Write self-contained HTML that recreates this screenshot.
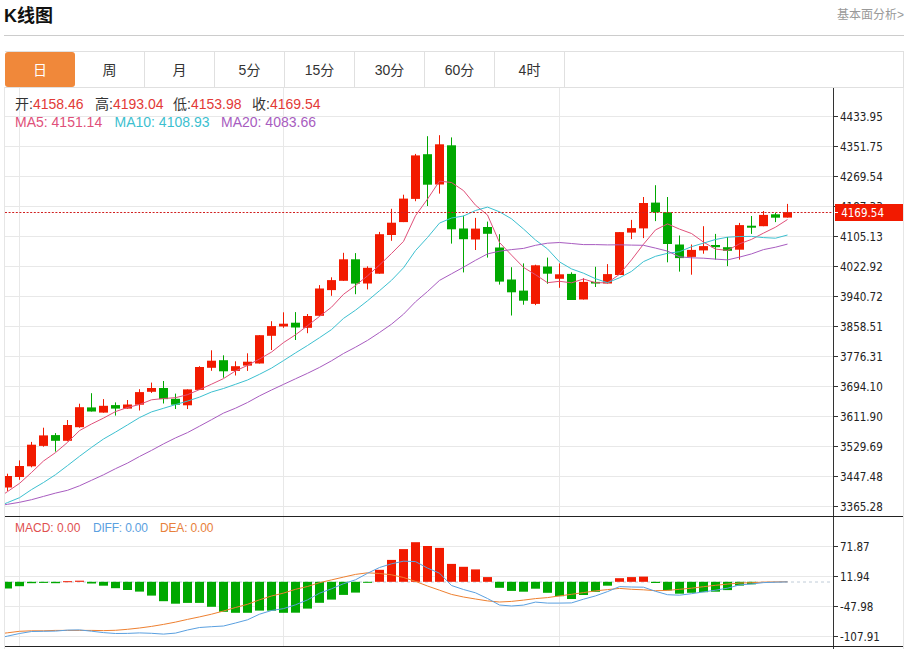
<!DOCTYPE html>
<html><head><meta charset="utf-8"><style>
*{margin:0;padding:0;box-sizing:border-box}
html,body{width:905px;height:649px;background:#fff;overflow:hidden}
body{position:relative;font-family:"Liberation Sans","Noto Sans CJK SC",sans-serif;color:#333}
.title{position:absolute;left:4px;top:4px;font-size:18px;font-weight:bold;color:#111;line-height:24px;font-family:"Liberation Sans","Noto Sans CJK SC",sans-serif}
.more{position:absolute;right:1px;top:7px;font-size:12px;color:#999;line-height:16px}
.hr{position:absolute;left:4px;top:35px;width:900px;height:1px;background:#ccc}
.tabs{position:absolute;left:5px;top:51px;width:899px;height:37px;border:1px solid #e0e0e0;border-left:none}
.tab{position:absolute;top:-1px;height:36px;width:70px;border-right:1px solid #e0e0e0;font-size:14px;line-height:36px;padding-top:1px;text-align:center;color:#333}
.tab.on{background:#f0883a;color:#fff;border-radius:3px;border-right:none;top:0;height:35px;line-height:34px}
.chart{position:absolute;left:4px;top:87px;width:900px;height:562px;border-left:1px solid #e6e6e6;border-right:1px solid #e6e6e6}
svg{position:absolute;left:0;top:0}
.ax{font-family:"DejaVu Sans Condensed","DejaVu Sans",sans-serif;font-size:11.5px;fill:#222}
.leg{position:absolute;font-size:14px;line-height:16px;white-space:nowrap}
.leg b{font-weight:normal;color:#333}
.r{color:#e23a36}
</style></head><body>
<div class="title">K线图</div>
<div class="more">基本面分析&gt;</div>
<div class="hr"></div>
<div class="chart"></div>
<div class="tabs"><div class="tab on" style="left:0px">日</div><div class="tab" style="left:70px">周</div><div class="tab" style="left:140px">月</div><div class="tab" style="left:210px">5分</div><div class="tab" style="left:280px">15分</div><div class="tab" style="left:350px">30分</div><div class="tab" style="left:420px">60分</div><div class="tab" style="left:490px">4时</div></div>
<svg width="905" height="649" viewBox="0 0 905 649">
<defs><clipPath id="cp"><rect x="5" y="88" width="828" height="428"/></clipPath>
<clipPath id="cp2"><rect x="5" y="517" width="828" height="129"/></clipPath></defs>
<line x1="5" y1="116.5" x2="833" y2="116.5" stroke="#e8e8e8"/><line x1="5" y1="146.5" x2="833" y2="146.5" stroke="#e8e8e8"/><line x1="5" y1="176.5" x2="833" y2="176.5" stroke="#e8e8e8"/><line x1="5" y1="206.5" x2="833" y2="206.5" stroke="#e8e8e8"/><line x1="5" y1="236.5" x2="833" y2="236.5" stroke="#e8e8e8"/><line x1="5" y1="266.5" x2="833" y2="266.5" stroke="#e8e8e8"/><line x1="5" y1="296.5" x2="833" y2="296.5" stroke="#e8e8e8"/><line x1="5" y1="326.5" x2="833" y2="326.5" stroke="#e8e8e8"/><line x1="5" y1="356.5" x2="833" y2="356.5" stroke="#e8e8e8"/><line x1="5" y1="386.5" x2="833" y2="386.5" stroke="#e8e8e8"/><line x1="5" y1="416.5" x2="833" y2="416.5" stroke="#e8e8e8"/><line x1="5" y1="446.5" x2="833" y2="446.5" stroke="#e8e8e8"/><line x1="5" y1="476.5" x2="833" y2="476.5" stroke="#e8e8e8"/><line x1="5" y1="506.5" x2="833" y2="506.5" stroke="#e8e8e8"/><line x1="5" y1="546.5" x2="833" y2="546.5" stroke="#e8e8e8"/><line x1="5" y1="576.5" x2="833" y2="576.5" stroke="#e8e8e8"/><line x1="5" y1="606.5" x2="833" y2="606.5" stroke="#e8e8e8"/><line x1="5" y1="636.5" x2="833" y2="636.5" stroke="#e8e8e8"/><line x1="19.5" y1="88" x2="19.5" y2="646" stroke="#e8e8e8"/><line x1="283.5" y1="88" x2="283.5" y2="646" stroke="#e8e8e8"/><line x1="559.5" y1="88" x2="559.5" y2="646" stroke="#e8e8e8"/>
<g clip-path="url(#cp)"><rect x="7" y="473.7" width="1" height="17.2" fill="#f21a00"/><rect x="3" y="476.0" width="9" height="11.5" fill="#f21a00"/><rect x="19" y="460.4" width="1" height="19.4" fill="#f21a00"/><rect x="15" y="466.0" width="9" height="11.0" fill="#f21a00"/><rect x="31" y="441.9" width="1" height="25.4" fill="#f21a00"/><rect x="27" y="444.7" width="9" height="21.6" fill="#f21a00"/><rect x="43" y="427.7" width="1" height="19.0" fill="#f21a00"/><rect x="39" y="435.4" width="9" height="10.5" fill="#f21a00"/><rect x="55" y="433.1" width="1" height="18.5" fill="#00a800"/><rect x="51" y="435.1" width="9" height="5.7" fill="#00a800"/><rect x="67" y="420.0" width="1" height="21.3" fill="#f21a00"/><rect x="63" y="425.0" width="9" height="15.8" fill="#f21a00"/><rect x="79" y="403.7" width="1" height="24.0" fill="#f21a00"/><rect x="75" y="407.2" width="9" height="20.0" fill="#f21a00"/><rect x="91" y="393.2" width="1" height="18.3" fill="#00a800"/><rect x="87" y="407.4" width="9" height="4.1" fill="#00a800"/><rect x="103" y="399.1" width="1" height="13.5" fill="#f21a00"/><rect x="99" y="405.8" width="9" height="6.8" fill="#f21a00"/><rect x="115" y="402.4" width="1" height="13.2" fill="#00a800"/><rect x="111" y="405.1" width="9" height="3.5" fill="#00a800"/><rect x="127" y="400.0" width="1" height="8.6" fill="#f21a00"/><rect x="123" y="404.5" width="9" height="4.1" fill="#f21a00"/><rect x="139" y="389.2" width="1" height="21.3" fill="#f21a00"/><rect x="135" y="392.1" width="9" height="12.6" fill="#f21a00"/><rect x="151" y="382.6" width="1" height="10.3" fill="#f21a00"/><rect x="147" y="388.0" width="9" height="3.8" fill="#f21a00"/><rect x="163" y="381.0" width="1" height="22.5" fill="#00a800"/><rect x="159" y="388.0" width="9" height="11.1" fill="#00a800"/><rect x="175" y="393.6" width="1" height="15.4" fill="#00a800"/><rect x="171" y="398.8" width="9" height="5.9" fill="#00a800"/><rect x="187" y="389.4" width="1" height="19.6" fill="#f21a00"/><rect x="183" y="389.4" width="9" height="15.9" fill="#f21a00"/><rect x="199" y="366.2" width="1" height="23.7" fill="#f21a00"/><rect x="195" y="367.0" width="9" height="22.9" fill="#f21a00"/><rect x="211" y="350.3" width="1" height="20.5" fill="#f21a00"/><rect x="207" y="360.7" width="9" height="7.1" fill="#f21a00"/><rect x="223" y="355.3" width="1" height="22.4" fill="#00a800"/><rect x="219" y="360.2" width="9" height="11.1" fill="#00a800"/><rect x="235" y="361.3" width="1" height="14.2" fill="#f21a00"/><rect x="231" y="366.2" width="9" height="4.7" fill="#f21a00"/><rect x="247" y="353.3" width="1" height="17.6" fill="#f21a00"/><rect x="243" y="361.7" width="9" height="3.9" fill="#f21a00"/><rect x="259" y="335.2" width="1" height="28.3" fill="#f21a00"/><rect x="255" y="335.2" width="9" height="28.3" fill="#f21a00"/><rect x="271" y="321.2" width="1" height="28.8" fill="#f21a00"/><rect x="267" y="326.1" width="9" height="9.7" fill="#f21a00"/><rect x="283" y="312.3" width="1" height="15.5" fill="#f21a00"/><rect x="279" y="323.7" width="9" height="2.8" fill="#f21a00"/><rect x="295" y="312.1" width="1" height="27.9" fill="#00a800"/><rect x="291" y="322.7" width="9" height="4.8" fill="#00a800"/><rect x="307" y="314.0" width="1" height="19.2" fill="#f21a00"/><rect x="303" y="316.0" width="9" height="11.8" fill="#f21a00"/><rect x="319" y="285.1" width="1" height="30.7" fill="#f21a00"/><rect x="315" y="288.5" width="9" height="27.3" fill="#f21a00"/><rect x="331" y="277.3" width="1" height="18.5" fill="#f21a00"/><rect x="327" y="280.1" width="9" height="10.0" fill="#f21a00"/><rect x="343" y="252.8" width="1" height="28.0" fill="#f21a00"/><rect x="339" y="259.3" width="9" height="21.5" fill="#f21a00"/><rect x="355" y="253.1" width="1" height="41.1" fill="#00a800"/><rect x="351" y="259.3" width="9" height="24.3" fill="#00a800"/><rect x="367" y="266.3" width="1" height="23.1" fill="#f21a00"/><rect x="363" y="267.8" width="9" height="15.7" fill="#f21a00"/><rect x="379" y="231.9" width="1" height="41.8" fill="#f21a00"/><rect x="375" y="234.2" width="9" height="39.5" fill="#f21a00"/><rect x="391" y="208.8" width="1" height="32.0" fill="#f21a00"/><rect x="387" y="222.7" width="9" height="12.3" fill="#f21a00"/><rect x="403" y="194.7" width="1" height="27.4" fill="#f21a00"/><rect x="399" y="198.6" width="9" height="23.5" fill="#f21a00"/><rect x="415" y="153.9" width="1" height="47.3" fill="#f21a00"/><rect x="411" y="155.4" width="9" height="43.5" fill="#f21a00"/><rect x="427" y="136.2" width="1" height="69.8" fill="#00a800"/><rect x="423" y="154.2" width="9" height="30.5" fill="#00a800"/><rect x="439" y="135.2" width="1" height="58.4" fill="#f21a00"/><rect x="435" y="144.3" width="9" height="40.2" fill="#f21a00"/><rect x="451" y="137.4" width="1" height="106.2" fill="#00a800"/><rect x="447" y="145.3" width="9" height="84.0" fill="#00a800"/><rect x="463" y="215.7" width="1" height="56.7" fill="#00a800"/><rect x="459" y="228.5" width="9" height="10.7" fill="#00a800"/><rect x="475" y="217.9" width="1" height="32.1" fill="#f21a00"/><rect x="471" y="228.6" width="9" height="10.9" fill="#f21a00"/><rect x="487" y="221.6" width="1" height="36.0" fill="#00a800"/><rect x="483" y="227.0" width="9" height="6.8" fill="#00a800"/><rect x="499" y="234.2" width="1" height="50.4" fill="#00a800"/><rect x="495" y="247.5" width="9" height="34.1" fill="#00a800"/><rect x="511" y="267.2" width="1" height="48.3" fill="#00a800"/><rect x="507" y="279.5" width="9" height="12.8" fill="#00a800"/><rect x="523" y="263.4" width="1" height="41.3" fill="#00a800"/><rect x="519" y="290.6" width="9" height="10.1" fill="#00a800"/><rect x="535" y="264.7" width="1" height="40.4" fill="#f21a00"/><rect x="531" y="265.3" width="9" height="38.6" fill="#f21a00"/><rect x="547" y="257.6" width="1" height="26.2" fill="#00a800"/><rect x="543" y="266.5" width="9" height="7.2" fill="#00a800"/><rect x="559" y="263.4" width="1" height="24.4" fill="#f21a00"/><rect x="555" y="274.3" width="9" height="4.5" fill="#f21a00"/><rect x="571" y="272.3" width="1" height="27.7" fill="#00a800"/><rect x="567" y="273.9" width="9" height="26.1" fill="#00a800"/><rect x="583" y="278.2" width="1" height="21.3" fill="#f21a00"/><rect x="579" y="281.9" width="9" height="17.6" fill="#f21a00"/><rect x="595" y="266.8" width="1" height="20.2" fill="#00a800"/><rect x="591" y="281.9" width="9" height="1.6" fill="#00a800"/><rect x="607" y="264.1" width="1" height="19.4" fill="#f21a00"/><rect x="603" y="274.1" width="9" height="9.4" fill="#f21a00"/><rect x="619" y="232.1" width="1" height="42.9" fill="#f21a00"/><rect x="615" y="232.1" width="9" height="42.9" fill="#f21a00"/><rect x="631" y="219.9" width="1" height="19.2" fill="#f21a00"/><rect x="627" y="228.1" width="9" height="4.5" fill="#f21a00"/><rect x="643" y="197.0" width="1" height="41.1" fill="#f21a00"/><rect x="639" y="203.0" width="9" height="25.4" fill="#f21a00"/><rect x="655" y="185.2" width="1" height="35.9" fill="#00a800"/><rect x="651" y="202.6" width="9" height="9.7" fill="#00a800"/><rect x="667" y="197.0" width="1" height="65.3" fill="#00a800"/><rect x="663" y="212.3" width="9" height="31.7" fill="#00a800"/><rect x="679" y="235.5" width="1" height="36.1" fill="#00a800"/><rect x="675" y="244.5" width="9" height="13.6" fill="#00a800"/><rect x="691" y="244.5" width="1" height="30.2" fill="#f21a00"/><rect x="687" y="249.9" width="9" height="7.0" fill="#f21a00"/><rect x="703" y="226.2" width="1" height="27.5" fill="#f21a00"/><rect x="699" y="246.1" width="9" height="4.3" fill="#f21a00"/><rect x="715" y="233.9" width="1" height="25.7" fill="#00a800"/><rect x="711" y="245.0" width="9" height="2.2" fill="#00a800"/><rect x="727" y="237.0" width="1" height="29.1" fill="#00a800"/><rect x="723" y="247.2" width="9" height="3.6" fill="#00a800"/><rect x="739" y="222.9" width="1" height="36.7" fill="#f21a00"/><rect x="735" y="225.1" width="9" height="24.6" fill="#f21a00"/><rect x="751" y="216.0" width="1" height="17.9" fill="#00a800"/><rect x="747" y="225.7" width="9" height="2.0" fill="#00a800"/><rect x="763" y="211.0" width="1" height="15.2" fill="#f21a00"/><rect x="759" y="214.9" width="9" height="11.3" fill="#f21a00"/><rect x="775" y="212.9" width="1" height="9.2" fill="#00a800"/><rect x="771" y="214.3" width="9" height="3.4" fill="#00a800"/><rect x="787" y="203.9" width="1" height="13.7" fill="#f21a00"/><rect x="783" y="212.1" width="9" height="5.5" fill="#f21a00"/><polyline points="-4.5,499.8 7.5,491.6 19.5,483.4 31.5,472.5 43.5,461.0 55.5,452.6 67.5,442.4 79.5,430.6 91.5,424.0 103.5,418.1 115.5,411.6 127.5,407.5 139.5,404.5 151.5,399.8 163.5,398.5 175.5,397.7 187.5,394.7 199.5,389.6 211.5,384.2 223.5,378.6 235.5,370.9 247.5,365.4 259.5,359.0 271.5,352.1 283.5,342.6 295.5,334.8 307.5,325.7 319.5,316.4 331.5,307.2 343.5,294.3 355.5,285.5 367.5,275.9 379.5,265.0 391.5,253.5 403.5,241.4 415.5,215.7 427.5,199.1 439.5,181.1 451.5,182.5 463.5,190.6 475.5,205.2 487.5,215.0 499.5,242.5 511.5,255.1 523.5,267.4 535.5,274.7 547.5,282.7 559.5,281.3 571.5,282.8 583.5,279.0 595.5,282.7 607.5,282.8 619.5,274.3 631.5,259.9 643.5,244.2 655.5,229.9 667.5,223.9 679.5,229.1 691.5,233.5 703.5,242.1 715.5,249.1 727.5,250.4 739.5,243.8 751.5,239.4 763.5,233.1 775.5,227.2 787.5,219.5" fill="none" stroke="#e0507a" stroke-width="1"/><polyline points="-4.5,507.5 7.5,502.6 19.5,497.7 31.5,489.6 43.5,482.5 55.5,474.7 67.5,465.6 79.5,456.3 91.5,447.4 103.5,439.0 115.5,432.1 127.5,424.9 139.5,417.6 151.5,411.9 163.5,408.3 175.5,404.6 187.5,401.1 199.5,397.1 211.5,392.0 223.5,388.5 235.5,384.3 247.5,380.0 259.5,374.3 271.5,368.1 283.5,360.6 295.5,352.9 307.5,345.5 319.5,337.7 331.5,329.6 343.5,318.4 355.5,310.2 367.5,300.8 379.5,290.7 391.5,280.3 403.5,267.8 415.5,250.6 427.5,237.5 439.5,223.1 451.5,218.0 463.5,216.0 475.5,210.5 487.5,207.1 499.5,211.8 511.5,218.8 523.5,229.0 535.5,240.0 547.5,248.9 559.5,261.9 571.5,268.9 583.5,273.2 595.5,278.7 607.5,282.7 619.5,277.8 631.5,271.4 643.5,261.6 655.5,256.3 667.5,253.3 679.5,251.7 691.5,246.7 703.5,243.1 715.5,239.5 727.5,237.2 739.5,236.5 751.5,236.4 763.5,237.6 775.5,238.2 787.5,235.0" fill="none" stroke="#3cc0d0" stroke-width="1"/><polyline points="-4.5,506.3 7.5,504.3 19.5,502.3 31.5,499.7 43.5,496.4 55.5,493.1 67.5,490.3 79.5,485.8 91.5,480.3 103.5,474.8 115.5,468.7 127.5,463.1 139.5,456.5 151.5,450.4 163.5,443.9 175.5,437.9 187.5,432.6 199.5,426.2 211.5,419.7 223.5,413.1 235.5,408.2 247.5,402.5 259.5,395.9 271.5,390.0 283.5,384.4 295.5,378.8 307.5,373.3 319.5,367.4 331.5,360.8 343.5,353.5 355.5,347.2 367.5,340.4 379.5,332.5 391.5,324.2 403.5,314.2 415.5,301.8 427.5,291.5 439.5,280.4 451.5,273.8 463.5,267.2 475.5,260.3 487.5,253.9 499.5,251.2 511.5,249.6 523.5,248.4 535.5,245.3 547.5,243.2 559.5,242.5 571.5,243.5 583.5,244.6 595.5,244.6 607.5,244.9 619.5,244.8 631.5,245.1 643.5,245.3 655.5,248.1 667.5,251.1 679.5,256.8 691.5,257.8 703.5,258.2 715.5,259.1 727.5,259.9 739.5,257.1 751.5,253.9 763.5,249.6 775.5,247.2 787.5,244.1" fill="none" stroke="#a85cc0" stroke-width="1"/></g>
<g clip-path="url(#cp2)"><line x1="5" y1="582.0" x2="833" y2="582.0" stroke="#c0ccd8" stroke-dasharray="3,3"/><rect x="3" y="581.8" width="9" height="6.7" fill="#00a800"/><rect x="15" y="581.8" width="9" height="4.4" fill="#00a800"/><rect x="27" y="581.8" width="9" height="1.4" fill="#00a800"/><rect x="39" y="581.8" width="9" height="1.1" fill="#00a800"/><rect x="51" y="581.8" width="9" height="1.4" fill="#00a800"/><rect x="63" y="581.2" width="9" height="1.0" fill="#f21a00"/><rect x="75" y="580.7" width="9" height="1.1" fill="#f21a00"/><rect x="87" y="581.8" width="9" height="1.7" fill="#00a800"/><rect x="99" y="581.8" width="9" height="3.9" fill="#00a800"/><rect x="111" y="581.8" width="9" height="6.4" fill="#00a800"/><rect x="123" y="581.8" width="9" height="8.2" fill="#00a800"/><rect x="135" y="581.8" width="9" height="9.8" fill="#00a800"/><rect x="147" y="581.8" width="9" height="13.8" fill="#00a800"/><rect x="159" y="581.8" width="9" height="19.4" fill="#00a800"/><rect x="171" y="581.8" width="9" height="21.9" fill="#00a800"/><rect x="183" y="581.8" width="9" height="21.1" fill="#00a800"/><rect x="195" y="581.8" width="9" height="21.1" fill="#00a800"/><rect x="207" y="581.8" width="9" height="25.0" fill="#00a800"/><rect x="219" y="581.8" width="9" height="30.0" fill="#00a800"/><rect x="231" y="581.8" width="9" height="31.0" fill="#00a800"/><rect x="243" y="581.8" width="9" height="31.0" fill="#00a800"/><rect x="255" y="581.8" width="9" height="28.8" fill="#00a800"/><rect x="267" y="581.8" width="9" height="28.9" fill="#00a800"/><rect x="279" y="581.8" width="9" height="31.0" fill="#00a800"/><rect x="291" y="581.8" width="9" height="30.9" fill="#00a800"/><rect x="303" y="581.8" width="9" height="26.8" fill="#00a800"/><rect x="315" y="581.8" width="9" height="21.0" fill="#00a800"/><rect x="327" y="581.8" width="9" height="17.8" fill="#00a800"/><rect x="339" y="581.8" width="9" height="13.1" fill="#00a800"/><rect x="351" y="581.8" width="9" height="10.8" fill="#00a800"/><rect x="363" y="581.8" width="9" height="1.0" fill="#00a800"/><rect x="375" y="569.8" width="9" height="12.0" fill="#f21a00"/><rect x="387" y="559.9" width="9" height="21.9" fill="#f21a00"/><rect x="399" y="549.1" width="9" height="32.7" fill="#f21a00"/><rect x="411" y="542.2" width="9" height="39.6" fill="#f21a00"/><rect x="423" y="546.0" width="9" height="35.8" fill="#f21a00"/><rect x="435" y="547.9" width="9" height="33.9" fill="#f21a00"/><rect x="447" y="563.9" width="9" height="17.9" fill="#f21a00"/><rect x="459" y="566.8" width="9" height="15.0" fill="#f21a00"/><rect x="471" y="569.4" width="9" height="12.4" fill="#f21a00"/><rect x="483" y="577.1" width="9" height="4.7" fill="#f21a00"/><rect x="495" y="581.8" width="9" height="6.0" fill="#00a800"/><rect x="507" y="581.8" width="9" height="9.1" fill="#00a800"/><rect x="519" y="581.8" width="9" height="9.9" fill="#00a800"/><rect x="531" y="581.8" width="9" height="6.9" fill="#00a800"/><rect x="543" y="581.8" width="9" height="11.0" fill="#00a800"/><rect x="555" y="581.8" width="9" height="14.4" fill="#00a800"/><rect x="567" y="581.8" width="9" height="17.2" fill="#00a800"/><rect x="579" y="581.8" width="9" height="13.2" fill="#00a800"/><rect x="591" y="581.8" width="9" height="10.0" fill="#00a800"/><rect x="603" y="581.8" width="9" height="3.9" fill="#00a800"/><rect x="615" y="578.2" width="9" height="3.6" fill="#f21a00"/><rect x="627" y="577.1" width="9" height="4.7" fill="#f21a00"/><rect x="639" y="576.6" width="9" height="5.2" fill="#f21a00"/><rect x="651" y="581.8" width="9" height="1.2" fill="#00a800"/><rect x="663" y="581.8" width="9" height="8.6" fill="#00a800"/><rect x="675" y="581.8" width="9" height="11.9" fill="#00a800"/><rect x="687" y="581.8" width="9" height="11.0" fill="#00a800"/><rect x="699" y="581.8" width="9" height="10.4" fill="#00a800"/><rect x="711" y="581.8" width="9" height="9.9" fill="#00a800"/><rect x="723" y="581.8" width="9" height="8.3" fill="#00a800"/><rect x="735" y="581.8" width="9" height="3.8" fill="#00a800"/><rect x="747" y="581.8" width="9" height="2.5" fill="#00a800"/><polyline points="-4.5,634.3 7.5,632.8 19.5,631.3 31.5,630.8 43.5,630.8 55.5,630.4 67.5,630.4 79.5,630.4 91.5,630.4 103.5,630.6 115.5,630.3 127.5,629.3 139.5,628.0 151.5,626.4 163.5,624.4 175.5,622.1 187.5,619.4 199.5,616.9 211.5,614.2 223.5,611.0 235.5,607.5 247.5,604.3 259.5,599.8 271.5,596.0 283.5,593.1 295.5,589.3 307.5,586.5 319.5,582.7 331.5,579.9 343.5,577.1 355.5,574.4 367.5,572.8 379.5,573.5 391.5,574.8 403.5,577.5 415.5,581.4 427.5,586.0 439.5,590.2 451.5,594.4 463.5,597.0 475.5,599.0 487.5,600.9 499.5,602.0 511.5,601.4 523.5,600.1 535.5,598.6 547.5,597.6 559.5,595.9 571.5,594.3 583.5,592.6 595.5,590.9 607.5,589.6 619.5,588.4 631.5,589.3 643.5,589.8 655.5,590.7 667.5,590.4 679.5,589.3 691.5,588.2 703.5,586.7 715.5,585.3 727.5,584.1 739.5,583.0 751.5,582.7 763.5,582.1 775.5,581.9 787.5,581.8" fill="none" stroke="#ee8030" stroke-width="1"/><polyline points="-4.5,638.8 7.5,636.1 19.5,633.5 31.5,631.5 43.5,631.3 55.5,631.1 67.5,630.1 79.5,629.9 91.5,631.2 103.5,632.6 115.5,633.5 127.5,633.4 139.5,632.9 151.5,633.3 163.5,634.1 175.5,633.1 187.5,630.0 199.5,627.5 211.5,626.7 223.5,626.0 235.5,623.0 247.5,619.8 259.5,614.2 271.5,610.5 283.5,608.6 295.5,604.8 307.5,599.9 319.5,593.2 331.5,588.8 343.5,583.7 355.5,579.8 367.5,573.3 379.5,567.5 391.5,563.8 403.5,561.2 415.5,561.6 427.5,568.1 439.5,573.2 451.5,585.5 463.5,589.5 475.5,592.8 487.5,598.5 499.5,605.0 511.5,606.0 523.5,605.1 535.5,602.1 547.5,603.1 559.5,603.1 571.5,602.9 583.5,599.2 595.5,595.9 607.5,591.6 619.5,586.6 631.5,587.0 643.5,587.2 655.5,591.3 667.5,594.7 679.5,595.2 691.5,593.7 703.5,591.9 715.5,590.2 727.5,588.2 739.5,584.9 751.5,584.0 763.5,582.6 775.5,582.2 787.5,581.9" fill="none" stroke="#5aa0e0" stroke-width="1"/></g>
<line x1="833.5" y1="88" x2="833.5" y2="649" stroke="#333"/><line x1="5" y1="516.5" x2="903" y2="516.5" stroke="#222"/><line x1="5" y1="646.5" x2="903" y2="646.5" stroke="#222"/><line x1="834" y1="116.5" x2="838" y2="116.5" stroke="#333"/><text x="840" y="120.5" class="ax">4433.95</text><line x1="834" y1="146.5" x2="838" y2="146.5" stroke="#333"/><text x="840" y="150.5" class="ax">4351.75</text><line x1="834" y1="176.5" x2="838" y2="176.5" stroke="#333"/><text x="840" y="180.5" class="ax">4269.54</text><line x1="834" y1="206.5" x2="838" y2="206.5" stroke="#333"/><text x="840" y="210.5" class="ax">4187.33</text><line x1="834" y1="236.5" x2="838" y2="236.5" stroke="#333"/><text x="840" y="240.5" class="ax">4105.13</text><line x1="834" y1="266.5" x2="838" y2="266.5" stroke="#333"/><text x="840" y="270.5" class="ax">4022.92</text><line x1="834" y1="296.5" x2="838" y2="296.5" stroke="#333"/><text x="840" y="300.5" class="ax">3940.72</text><line x1="834" y1="326.5" x2="838" y2="326.5" stroke="#333"/><text x="840" y="330.5" class="ax">3858.51</text><line x1="834" y1="356.5" x2="838" y2="356.5" stroke="#333"/><text x="840" y="360.5" class="ax">3776.31</text><line x1="834" y1="386.5" x2="838" y2="386.5" stroke="#333"/><text x="840" y="390.5" class="ax">3694.10</text><line x1="834" y1="416.5" x2="838" y2="416.5" stroke="#333"/><text x="840" y="420.5" class="ax">3611.90</text><line x1="834" y1="446.5" x2="838" y2="446.5" stroke="#333"/><text x="840" y="450.5" class="ax">3529.69</text><line x1="834" y1="476.5" x2="838" y2="476.5" stroke="#333"/><text x="840" y="480.5" class="ax">3447.48</text><line x1="834" y1="506.5" x2="838" y2="506.5" stroke="#333"/><text x="840" y="510.5" class="ax">3365.28</text><line x1="834" y1="546.5" x2="838" y2="546.5" stroke="#333"/><text x="840" y="550.5" class="ax">71.87</text><line x1="834" y1="576.5" x2="838" y2="576.5" stroke="#333"/><text x="840" y="580.5" class="ax">11.94</text><line x1="834" y1="606.5" x2="838" y2="606.5" stroke="#333"/><text x="840" y="610.5" class="ax">-47.98</text><line x1="834" y1="636.5" x2="838" y2="636.5" stroke="#333"/><text x="840" y="640.5" class="ax">-107.91</text><line x1="5" y1="212.5" x2="833" y2="212.5" stroke="#d02020" stroke-dasharray="2,1.6"/><rect x="835" y="204" width="68" height="17" fill="#f21a00"/><line x1="834" y1="212.5" x2="838" y2="212.5" stroke="#fff"/><text x="841.2" y="217" class="ax" style="fill:#fff">4169.54</text>
</svg>
<div class="leg" style="left:15px;top:96px"><b>开:</b><span class="r">4158.46</span></div>
<div class="leg" style="left:95px;top:96px"><b>高:</b><span class="r">4193.04</span></div>
<div class="leg" style="left:173px;top:96px"><b>低:</b><span class="r">4153.98</span></div>
<div class="leg" style="left:252px;top:96px"><b>收:</b><span class="r">4169.54</span></div>
<div class="leg" style="left:15px;top:114px;color:#e0507a">MA5: 4151.14</div>
<div class="leg" style="left:114.5px;top:114px;color:#3cbfd0">MA10: 4108.93</div>
<div class="leg" style="left:221px;top:114px;color:#a85cc0">MA20: 4083.66</div>
<div class="leg" style="left:15px;top:520px;font-size:12px;color:#e05050">MACD: 0.00</div>
<div class="leg" style="left:93px;top:520px;font-size:12px;color:#5aa0e0;letter-spacing:-0.2px">DIFF: 0.00</div>
<div class="leg" style="left:160px;top:520px;font-size:12px;color:#e8803a;letter-spacing:-0.15px">DEA: 0.00</div>
</body></html>
